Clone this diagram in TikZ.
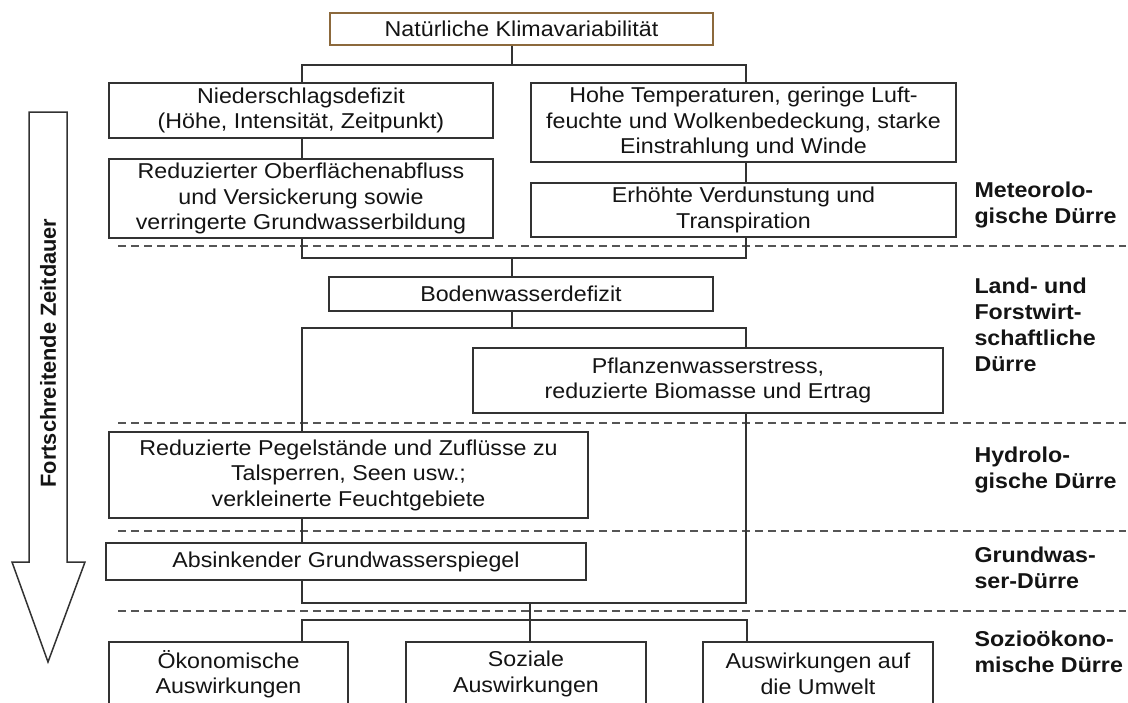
\documentclass[tikz,border=0pt]{standalone}
\usepackage{fontspec}
\newfontfamily\bx{Liberation Sans}[FakeStretch=1.08]
\newfontfamily\ax{Liberation Sans}
\definecolor{linec}{RGB}{50,50,50}
\definecolor{brownc}{RGB}{140,105,60}
\definecolor{sepc}{RGB}{85,85,85}
\definecolor{txtc}{RGB}{20,20,20}
\tikzset{
  box/.style={draw=linec, line width=1.6pt, fill=white, inner sep=0pt, align=center,
    text=txtc, font=\bx\fontsize{21.5}{25.5}\selectfont},
  conn/.style={draw=linec, line width=1.8pt},
  sepline/.style={draw=sepc, line width=1.4pt, dash pattern=on 8pt off 5pt},
  lab/.style={anchor=west, align=left, text=txtc, font=\bx\bfseries\fontsize{21.5}{26}\selectfont},
  arrowline/.style={draw=linec, line width=1.5pt, line join=miter}
}
\begin{document}
\begin{tikzpicture}[x=1pt,y=-1pt]
\useasboundingbox (0,0) rectangle (1128,702);
\clip (0,0) rectangle (1128,702);
% separators
\draw[sepline] (118,246) -- (1126,246);
\draw[sepline] (118,423) -- (1126,423);
\draw[sepline] (118,531) -- (1126,531);
\draw[sepline] (118,611) -- (1126,611);
% time arrow
\draw[arrowline] (29,112) -- (67,112) -- (67,562) -- (85,562) -- (48,662) -- (12,562) -- (29,562) -- cycle;
\node[rotate=90, text=txtc, font=\ax\bfseries\fontsize{21.8}{22}\selectfont] (zeit) at (48,353) {Fortschreitende Zeitdauer};
% boxes
\node[box, draw=brownc, minimum width=383, minimum height=32] (top) at (521.5,29) {Natürliche Klimavariabilität};
\node[box, minimum width=384, minimum height=55] (nied) at (301,110.5) {Niederschlagsdefizit\\(Höhe, Intensität, Zeitpunkt)};
\node[box, minimum width=425, minimum height=79] (hohe) at (743.5,122.5) {Hohe Temperaturen, geringe Luft-\\feuchte und Wolkenbedeckung, starke\\Einstrahlung und Winde};
\node[box, minimum width=384, minimum height=79] (red) at (301,198.5) {Reduzierter Oberflächenabfluss\\und Versickerung sowie\\verringerte Grundwasserbildung};
\node[box, minimum width=425, minimum height=54] (erh) at (743.5,210) {Erhöhte Verdunstung und\\Transpiration};
\node[box, minimum width=384, minimum height=34] (boden) at (521,294) {Bodenwasserdefizit};
\node[box, minimum width=470, minimum height=65] (pfl) at (708,380.5) {Pflanzenwasserstress,\\reduzierte Biomasse und Ertrag};
\node[box, minimum width=479, minimum height=86] (pegel) at (348.5,475) {Reduzierte Pegelstände und Zuflüsse zu\\Talsperren, Seen usw.;\\verkleinerte Feuchtgebiete};
\node[box, minimum width=480, minimum height=37] (abs) at (346,561.5) {Absinkender Grundwasserspiegel};
\node[box, minimum width=239, minimum height=64] (oek) at (228.5,674) {Ökonomische\\Auswirkungen};
\node[box, minimum width=240, minimum height=64] (soz) at (526,674) {Soziale\\Auswirkungen};
\node[box, minimum width=230, minimum height=64] (umw) at (818,674) {Auswirkungen auf\\die Umwelt};
% labels
\node[lab] (l1) at (971,205) {Meteorolo-\\gische Dürre};
\node[lab] (l2) at (971,324.5) {Land- und\\Forstwirt-\\schaftliche\\Dürre};
\node[lab] (l3) at (971,469.5) {Hydrolo-\\gische Dürre};
\node[lab] (l4) at (971,568) {Grundwas-\\ser-Dürre};
\node[lab] (l5) at (971,651.5) {Sozioökono-\\mische Dürre};
% junction coordinates
\coordinate (t1L) at (302,65); \coordinate (t1M) at (512,65); \coordinate (t1R) at (746,65);
\coordinate (t2L) at (302,258); \coordinate (t2M) at (512,258); \coordinate (t2R) at (746,258);
\coordinate (t3L) at (302,328); \coordinate (t3M) at (512,328); \coordinate (t3R) at (746,328);
\coordinate (t4L) at (302,603); \coordinate (t4M) at (530,603); \coordinate (t4R) at (746,603);
\coordinate (t5L) at (302,620); \coordinate (t5R) at (747,620);
% connectors
\draw[conn] (top.south -| t1M) -- (t1M);
\draw[conn] (nied.north -| t1L) -- (t1L) -- (t1R) -- (hohe.north -| t1R);
\draw[conn] (nied.south -| t1L) -- (red.north -| t1L);
\draw[conn] (hohe.south -| t1R) -- (erh.north -| t1R);
\draw[conn] (red.south -| t2L) -- (t2L) -- (t2R) -- (erh.south -| t2R);
\draw[conn] (t2M) -- (boden.north -| t2M);
\draw[conn] (boden.south -| t3M) -- (t3M);
\draw[conn] (pegel.north -| t3L) -- (t3L) -- (t3R) -- (pfl.north -| t3R);
\draw[conn] (pegel.south -| t3L) -- (abs.north -| t3L);
\draw[conn] (abs.south -| t4L) -- (t4L) -- (t4R) -- (pfl.south -| t4R);
\draw[conn] (t4M) -- (soz.north -| t4M);
\draw[conn] (oek.north -| t5L) -- (t5L) -- (t5R) -- (umw.north -| t5R);
\end{tikzpicture}
\end{document}
